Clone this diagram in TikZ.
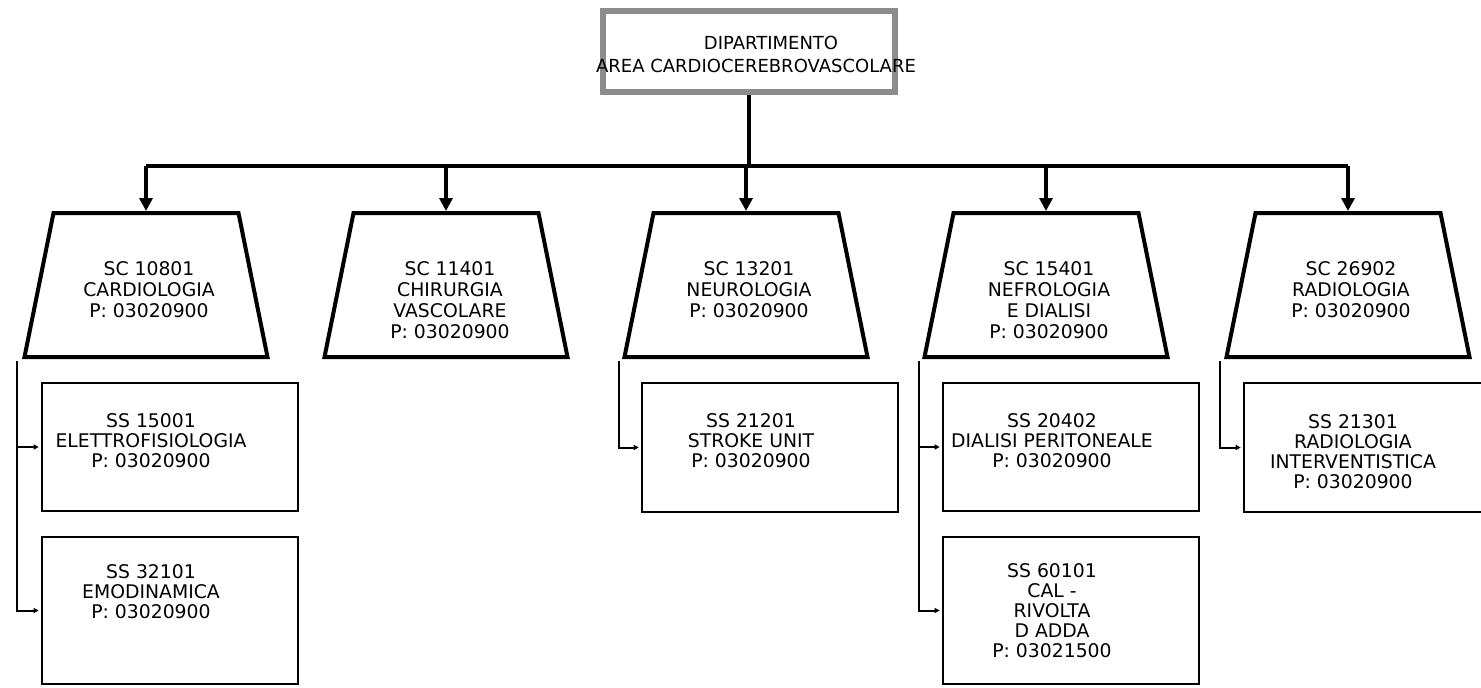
\documentclass[tikz,border=0pt]{standalone}
\usepackage{fontspec}
\setmainfont{DejaVu Sans}
\usetikzlibrary{calc,arrows.meta}
\definecolor{headgray}{HTML}{8C8C8C}
\begin{document}
\begin{tikzpicture}[x=0.5pt,y=-0.5pt,
  every node/.style={font=\fontsize{9.4}{10.5}\selectfont},
  head/.style={draw=headgray,line width=3pt,minimum width=146pt,minimum height=40.5pt,inner sep=0pt},
  unitbody/.style={minimum width=92.5pt,minimum height=72pt,inner sep=0pt,outer sep=0pt},
  unitline/.style={line width=2pt,line join=miter},
  subunit/.style={draw,line width=1.3pt,minimum width=128pt,inner sep=0pt},
  lbl/.style={anchor=north,align=center,inner sep=0pt},
  sublbl/.style={lbl,font=\fontsize{9.4}{10}\selectfont},
  main/.style={line width=2pt},
  feed/.style={line width=2pt,-{Triangle[width=6.5pt,length=6.5pt]},shorten >=1pt},
  branch/.style={line width=1pt,-{Triangle[width=2.5pt,length=2.5pt]},shorten >=1pt}
]
\clip (0,0) rectangle (1481,687);

% department header
\node[head] (head) at (749,51.5) {};
\node[lbl,font=\fontsize{9}{11.5}\selectfont] (headl) at (756,35.4)
  {\hspace*{15pt}DIPARTIMENTO\\AREA CARDIOCEREBROVASCOLARE};

% complex units: trapezoids widening downwards from the top edge of each body
\foreach \t/\x in {t1/146,t2/446,t3/746,t4/1046,t5/1348}{
  \node[unitbody] (\t) at (\x,285) {};
  \draw[unitline] (\t.north west) -- (\t.north east)
    -- ($(\t.south east)+(29,0)$) -- ($(\t.south west)+(-29,0)$) -- cycle;
}
\node[lbl] (t1l) at (149,261.4) {SC 10801\\CARDIOLOGIA\\P: 03020900};
\node[lbl] (t2l) at (450,261.4) {SC 11401\\CHIRURGIA\\VASCOLARE\\P: 03020900};
\node[lbl] (t3l) at (749,261.4) {SC 13201\\NEUROLOGIA\\P: 03020900};
\node[lbl] (t4l) at (1049,261.4) {SC 15401\\NEFROLOGIA\\E DIALISI\\P: 03020900};
\node[lbl] (t5l) at (1351,261.4) {SC 26902\\RADIOLOGIA\\P: 03020900};

% header to complex units
\coordinate (hub) at (749,166);
\draw[main] (head.south) -- (hub);
\draw[main] (t1.north |- hub) -- (t5.north |- hub);
\foreach \t in {t1,t2,t3,t4,t5}
  \draw[feed] (\t.north |- hub) -- (\t.north);

% simple units
\node[subunit,minimum height=64pt] (s1) at (170,447) {};
\node[subunit,minimum height=73.5pt] (s2) at (170,610.5) {};
\node[subunit,minimum height=64.5pt] (s3) at (770,447.5) {};
\node[subunit,minimum height=64pt] (s4) at (1071,447) {};
\node[subunit,minimum height=73.5pt] (s5) at (1071,610.5) {};
\node[subunit,minimum height=64.5pt] (s6) at (1372,447.5) {};
\node[sublbl] (s1l) at (151,413.4) {SS 15001\\ELETTROFISIOLOGIA\\P: 03020900};
\node[sublbl] (s2l) at (151,564.4) {SS 32101\\EMODINAMICA\\P: 03020900};
\node[sublbl] (s3l) at (751,413.4) {SS 21201\\STROKE UNIT\\P: 03020900};
\node[sublbl] (s4l) at (1052,413.4) {SS 20402\\DIALISI PERITONEALE\\P: 03020900};
\node[sublbl] (s5l) at (1052,563.4) {SS 60101\\CAL -\\RIVOLTA\\D ADDA\\P: 03021500};
\node[sublbl] (s6l) at (1353,414.4) {SS 21301\\RADIOLOGIA\\INTERVENTISTICA\\P: 03020900};

% complex units to simple units
\coordinate (c1) at (17,361);
\coordinate (c3) at (619,361);
\coordinate (c4) at (919,361);
\coordinate (c5) at (1220,361);
\draw[branch] (c1) |- (s1.west);
\draw[branch] (c1) |- (s2.west);
\draw[branch] (c3) |- (s3.west);
\draw[branch] (c4) |- (s4.west);
\draw[branch] (c4) |- (s5.west);
\draw[branch] (c5) |- (s6.west);
\end{tikzpicture}
\end{document}
